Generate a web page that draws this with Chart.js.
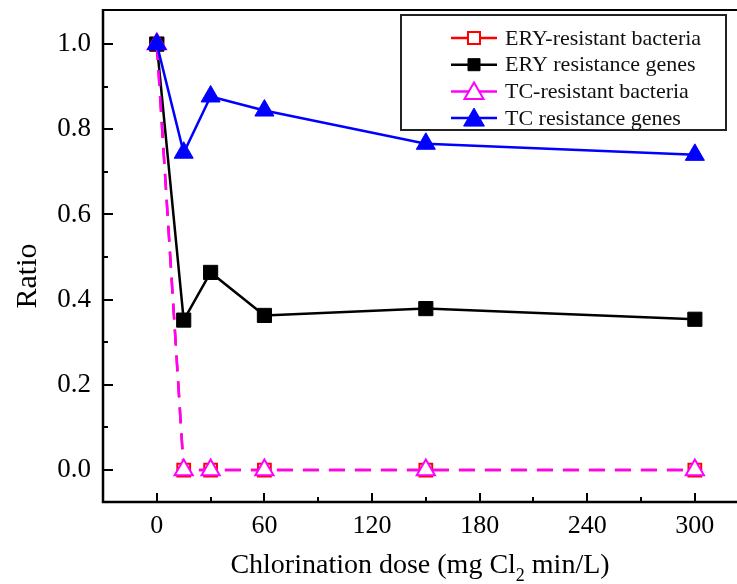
<!DOCTYPE html>
<html><head><meta charset="utf-8">
<script src="https://cdn.jsdelivr.net/npm/chart.js@4.4.0/dist/chart.umd.min.js"></script>
<style>html,body{margin:0;padding:0;background:#fff;overflow:hidden;} #wrap{width:737px;height:584px;}</style>
</head><body><div id="wrap"><canvas id="c" width="737" height="584" style="width:737px;height:584px"></canvas></div>
<script>
const doses = [0, 15, 30, 60, 150, 300];
const eryBacteria = [1.0, 0, 0, 0, 0, 0];
const eryGenes = [1.0, 0.352, 0.464, 0.363, 0.379, 0.354];
const tcBacteria = [1.0, 0, 0, 0, 0, 0];
const tcGenes = [1.0, 0.745, 0.877, 0.844, 0.766, 0.74];
const seriesLabels = ['ERY-resistant bacteria', 'ERY resistance genes', 'TC-resistant bacteria', 'TC resistance genes'];
const xMajorTicks = [0, 60, 120, 180, 240, 300];
const xMinorTicks = [30, 90, 150, 210, 270];
const yMajorTicks = [0, 0.2, 0.4, 0.6, 0.8, 1.0];
const yMinorTicks = [0.1, 0.3, 0.5, 0.7, 0.9];
const xTitleParts = ['Chlorination dose (mg Cl', '2', ' min/L)'];
const yTitle = 'Ratio';

const SERIF = '"Liberation Serif", "Times New Roman", serif';
const pts = ys => doses.map((x, i) => ({x: x, y: ys[i]}));

const datasets = [
  {label: seriesLabels[0], data: pts(eryBacteria), borderColor: '#ff0000', borderDash: [16, 10], borderWidth: 2.5,
   pointStyle: 'rect', pointRadius: 9, pointBorderWidth: 2, pointBackgroundColor: '#ffffff', pointBorderColor: '#ff0000', order: 3},
  {label: seriesLabels[1], data: pts(eryGenes), borderColor: '#000000', borderWidth: 2.5,
   pointStyle: 'rect', pointRadius: 10, pointBorderWidth: 1, pointBackgroundColor: '#000000', pointBorderColor: '#000000', order: 2},
  {label: seriesLabels[2], data: pts(tcBacteria), borderColor: '#ff00ff', borderDash: [16, 10], borderWidth: 2.5,
   pointStyle: 'triangle', pointRadius: 10.5, pointBorderWidth: 2, pointBackgroundColor: '#ffffff', pointBorderColor: '#ff00ff', order: 1},
  {label: seriesLabels[3], data: pts(tcGenes), borderColor: '#0000ff', borderWidth: 2.5,
   pointStyle: 'triangle', pointRadius: 11, pointBorderWidth: 1, pointBackgroundColor: '#0000ff', pointBorderColor: '#0000ff', order: 0}
];

const framePlugin = {
  id: 'frame',
  afterDraw(chart) {
    const ctx = chart.ctx, ca = chart.chartArea;
    const xs = chart.scales.x, ys = chart.scales.y;
    ctx.save();
    ctx.strokeStyle = '#000';
    ctx.setLineDash([]);
    ctx.lineWidth = 2;
    ctx.beginPath();
    ctx.moveTo(ca.left, ca.top); ctx.lineTo(ca.right + 2, ca.top);
    ctx.stroke();
    ctx.lineWidth = 2.5;
    ctx.beginPath();
    ctx.moveTo(ca.left, ca.top - 1); ctx.lineTo(ca.left, ca.bottom); ctx.lineTo(ca.right + 2, ca.bottom);
    ctx.stroke();
    ctx.lineWidth = 2;
    ctx.beginPath();
    yMajorTicks.forEach(v => { const y = Math.round(ys.getPixelForValue(v)); ctx.moveTo(ca.left, y); ctx.lineTo(ca.left + 10, y); });
    yMinorTicks.forEach(v => { const y = Math.round(ys.getPixelForValue(v)); ctx.moveTo(ca.left, y); ctx.lineTo(ca.left + 5, y); });
    xMajorTicks.forEach(v => { const x = Math.round(xs.getPixelForValue(v)); ctx.moveTo(x, ca.bottom); ctx.lineTo(x, ca.bottom - 9); });
    xMinorTicks.forEach(v => { const x = Math.round(xs.getPixelForValue(v)); ctx.moveTo(x, ca.bottom); ctx.lineTo(x, ca.bottom - 5); });
    ctx.stroke();

    ctx.fillStyle = '#000';
    ctx.font = '30px ' + SERIF;
    ctx.save();
    ctx.translate(36, 276);
    ctx.rotate(-Math.PI / 2);
    ctx.textAlign = 'center';
    ctx.textBaseline = 'alphabetic';
    ctx.fillText(yTitle, 0, 0);
    ctx.restore();

    const big = '28px ' + SERIF, small = '18px ' + SERIF;
    ctx.font = big; const w0 = ctx.measureText(xTitleParts[0]).width;
    const w2 = ctx.measureText(xTitleParts[2]).width;
    ctx.font = small; const w1 = ctx.measureText(xTitleParts[1]).width;
    const total = w0 + w1 + w2;
    let x0 = 420 - total / 2;
    const base = 573;
    ctx.textAlign = 'left'; ctx.textBaseline = 'alphabetic';
    ctx.font = big; ctx.fillText(xTitleParts[0], x0, base);
    ctx.font = small; ctx.fillText(xTitleParts[1], x0 + w0, base + 8);
    ctx.font = big; ctx.fillText(xTitleParts[2], x0 + w0 + w1, base);

    ctx.lineWidth = 2;
    ctx.strokeStyle = '#222';
    ctx.strokeRect(401, 15, 325, 115);
    const legendMarkerR = [8.5, 8.5, 11, 12];
    chart.data.datasets.forEach((ds, i) => {
      const y = 38 + i * 26.7;
      ctx.strokeStyle = ds.borderColor;
      ctx.lineWidth = 2.5;
      ctx.setLineDash([]);
      ctx.beginPath(); ctx.moveTo(451, y); ctx.lineTo(497, y); ctx.stroke();
      ctx.fillStyle = ds.pointBackgroundColor;
      ctx.strokeStyle = ds.pointBorderColor;
      ctx.lineWidth = ds.pointBorderWidth;
      const py = ds.pointStyle === 'triangle' ? y + 2 : y;
      Chart.helpers.drawPoint(ctx, {pointStyle: ds.pointStyle, radius: legendMarkerR[i], rotation: 0, borderWidth: ds.pointBorderWidth}, 474, py);
      ctx.fillStyle = '#111';
      ctx.font = '22px ' + SERIF;
      ctx.textAlign = 'left'; ctx.textBaseline = 'middle';
      ctx.fillText(ds.label, 505, y + 1);
    });
    ctx.restore();
  }
};

function zeroPad(s) { s.paddingTop = 0; s.paddingBottom = 0; s.paddingLeft = 0; s.paddingRight = 0; }

new Chart(document.getElementById('c'), {
  type: 'line',
  data: {datasets: datasets},
  options: {
    responsive: false,
    animation: false,
    layout: {autoPadding: false, padding: {top: 10, right: 0, left: 0, bottom: 0}},
    plugins: {legend: {display: false}, tooltip: {enabled: false}},
    elements: {line: {tension: 0, fill: false}},
    scales: {
      x: {
        type: 'linear', min: -30, max: 323.5,
        grid: {display: false, drawTicks: false}, border: {display: false},
        ticks: {includeBounds: false, padding: 9, color: '#000', font: {family: SERIF, size: 26}, maxRotation: 0, autoSkip: false},
        afterBuildTicks: s => { s.ticks = xMajorTicks.map(v => ({value: v})); },
        afterFit: s => { s.height = 82; zeroPad(s); }
      },
      y: {
        type: 'linear', min: -0.075, max: 1.08,
        grid: {display: false, drawTicks: false}, border: {display: false},
        ticks: {includeBounds: false, padding: 12, color: '#000', font: {family: SERIF, size: 27},
                callback: v => v.toFixed(1)},
        afterBuildTicks: s => { s.ticks = yMajorTicks.map(v => ({value: v})); },
        afterFit: s => { s.width = 103; zeroPad(s); }
      }
    }
  },
  plugins: [framePlugin]
});
</script>
</body></html>
